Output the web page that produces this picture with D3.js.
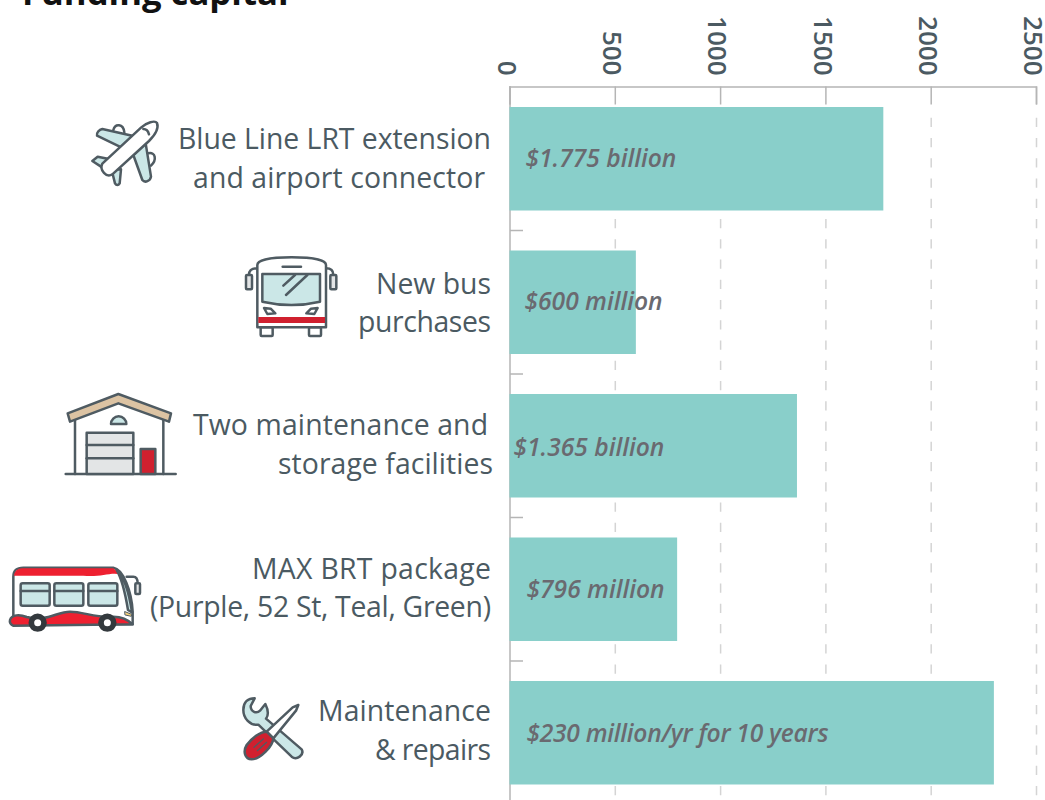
<!DOCTYPE html>
<html>
<head>
<meta charset="utf-8">
<script src="https://cdn.jsdelivr.net/npm/d3@7"></script>
<style>
  html, body { margin: 0; padding: 0; background: #fff; overflow: hidden; }
  svg { display: block; }
  text { font-family: "Open Sans", sans-serif; }
</style>
</head>
<body>
<div id="chart"></div>
<script>
const titleText = 'Funding capital';
const categories = ['Blue Line', 'New bus', 'Maintenance facilities', 'MAX BRT', 'Repairs'];
const categoryLines = [
  ['Blue Line LRT extension', 'and airport connector'],
  ['New bus', 'purchases'],
  ['Two maintenance and', 'storage facilities'],
  ['MAX BRT package', '(Purple, 52 St, Teal, Green)'],
  ['Maintenance', '& repairs']
];
const values = [1775, 600, 1365, 796, 2300];
const valueLabels = ['$1.775 billion', '$600 million', '$1.365 billion', '$796 million', '$230 million/yr for 10 years'];
const xTicks = [0, 500, 1000, 1500, 2000, 2500];

// hand placed nudges, the labels in the original are not aligned
const valueNudge = [[16, 0], [15, 0], [4, 2], [17, 1], [17, 1]];
const lineNudgeX = [[0, -6], [0, 0], [-3, 2], [0, 0], [0, 0]];
const lineNudgeY = [0, 1, -1, -1, -2];
// line widths of the original font, Open Sans runs a bit different
const lineWidths = [[313, 292], [115, 133], [295, 215], [239, 341], [173, 116]];

const width = 1045, height = 800;
const axisColor = '#b5b5b5', gridColor = '#d4d4d4', textColor = '#4b5a62';
const barColor = '#89cfca', valueColor = '#6a6a70';
const iconStroke = '#4f5b62', lightBlue = '#cbe7e7', red = '#d0202f', lightGrey = '#e3e5e6';

const svg = d3.select('#chart').append('svg').attr('width', width).attr('height', height);

const x = d3.scaleLinear().domain([0, 2500]).range([509.5, 1036]);
const y = d3.scaleBand().domain(categories).range([87, 804.5]).paddingInner(0.2787).paddingOuter(0.1394);

svg.append('text')
  .attr('x', 22).attr('y', 5)
  .attr('font-size', 34.7).attr('font-weight', 700).attr('fill', '#111')
  .text(titleText);

// grid, dashed part only, the solid stubs come from the axis ticks
svg.append('g').selectAll('line')
  .data(xTicks.slice(1))
  .join('line')
  .attr('x1', d => x(d) + 0.5).attr('x2', d => x(d) + 0.5)
  .attr('y1', 117.75).attr('y2', height)
  .attr('stroke', gridColor).attr('stroke-width', 1.5)
  .attr('stroke-dasharray', '9.25 11');

// x axis
const xAxis = d3.axisTop(x).tickValues(xTicks).tickFormat(d3.format('d')).tickSize(-18).tickSizeOuter(-18).tickPadding(0);
const xg = svg.append('g').attr('transform', 'translate(0,86.5)').call(xAxis);
xg.select('.domain').attr('stroke', axisColor).attr('stroke-width', 1.5);
xg.selectAll('.tick line').attr('stroke', axisColor).attr('stroke-width', 1.5);
xg.selectAll('.tick text')
  .attr('x', 0).attr('y', 0).attr('dy', '0.35em')
  .attr('transform', 'translate(-3,-11) rotate(90)')
  .attr('text-anchor', 'end')
  .attr('font-size', 26).attr('font-weight', 600).attr('fill', textColor);

// y axis line + ticks between the bands
svg.append('line')
  .attr('x1', 510).attr('x2', 510).attr('y1', 86).attr('y2', height)
  .attr('stroke', axisColor).attr('stroke-width', 1.5);
svg.append('g').selectAll('line')
  .data(categories.slice(0, -1))
  .join('line')
  .attr('x1', 510).attr('x2', 523)
  .attr('y1', d => y(d) + y.bandwidth() + y.step() * y.paddingInner() / 2)
  .attr('y2', d => y(d) + y.bandwidth() + y.step() * y.paddingInner() / 2)
  .attr('stroke', axisColor).attr('stroke-width', 1.5);

// bars
svg.append('g').selectAll('rect')
  .data(categories)
  .join('rect')
  .attr('x', x(0))
  .attr('y', d => y(d))
  .attr('width', (d, i) => x(values[i]) - x(0))
  .attr('height', y.bandwidth())
  .attr('fill', barColor);

// value labels
svg.append('g').selectAll('text')
  .data(categories)
  .join('text')
  .attr('x', (d, i) => x(0) + valueNudge[i][0])
  .attr('y', (d, i) => y(d) + y.bandwidth() / 2 + 8 + valueNudge[i][1])
  .attr('font-size', 24.6).attr('font-style', 'italic').attr('font-weight', 600)
  .attr('fill', valueColor)
  .attr('textLength', (d, i) => i === 4 ? 302 : null)
  .text((d, i) => valueLabels[i]);

// category labels
categories.forEach((c, i) => {
  const mid = y(c) + y.bandwidth() / 2 + lineNudgeY[i];
  categoryLines[i].forEach((line, j) => {
    svg.append('text')
      .attr('x', 491 + lineNudgeX[i][j])
      .attr('y', mid - 9.5 + j * 38.7)
      .attr('text-anchor', 'end')
      .attr('font-size', 28.4).attr('fill', textColor)
      .attr('textLength', lineWidths[i][j])
      .text(line);
  });
});

// icons, drawn in the 3x coordinates of a crop so they are easier to trace
function icon(px, py) {
  return svg.append('g')
    .attr('transform', `translate(${px},${py}) scale(${1 / 3})`)
    .attr('stroke', iconStroke).attr('stroke-width', 7.5).attr('stroke-linejoin', 'round').attr('stroke-linecap', 'round');
}
function shape(g, d, fill) {
  return g.append('path').attr('d', d).attr('fill', fill || 'none');
}

// plane
const plane = icon(85, 115);
shape(plane, 'M85,45 C90,25 115,25 118,52');
shape(plane, 'M190,115 C212,110 216,135 198,152');
shape(plane, 'M155,65 L52,42 C42,44 34,54 36,62 L115,100 Z', lightBlue);
shape(plane, 'M145,120 L182,85 L198,185 C196,198 180,205 172,195 Z', lightBlue);
shape(plane, 'M72,132 L38,125 L22,138 L48,155 Z', lightBlue);
shape(plane, 'M80,165 L108,163 L104,205 C100,212 94,212 90,205 Z', lightBlue);
shape(plane, 'M52,146 L168,38 C185,22 210,15 216,24 C222,40 208,62 192,78 L82,178 C65,190 42,165 52,146 Z', '#fff');
shape(plane, 'M175,42 C185,42 190,50 192,58');

// front of the bus
const busFront = icon(230, 240);
shape(busFront, 'M57,105 C57,90 65,85 82,85');
shape(busFront, 'M310,105 C310,90 302,85 288,85');
busFront.append('rect').attr('x', 48).attr('y', 105).attr('width', 18).attr('height', 43).attr('rx', 3).attr('fill', lightGrey);
busFront.append('rect').attr('x', 301).attr('y', 105).attr('width', 18).attr('height', 43).attr('rx', 3).attr('fill', lightGrey);
busFront.append('rect').attr('x', 92).attr('y', 262).attr('width', 36).attr('height', 26).attr('rx', 3).attr('fill', '#fff');
busFront.append('rect').attr('x', 237).attr('y', 262).attr('width', 36).attr('height', 26).attr('rx', 3).attr('fill', '#fff');
shape(busFront, 'M82,75 C82,60 120,52 185,52 C250,52 288,60 288,75 L288,262 L82,262 Z', '#fff');
busFront.append('rect').attr('x', 85).attr('y', 231).attr('width', 200).attr('height', 18).attr('fill', red).attr('stroke', 'none');
shape(busFront, 'M97,102 H270 V185 Q185,205 97,185 Z', lightBlue);
shape(busFront, 'M158,80 H213');
shape(busFront, 'M160,137 L195,105');
shape(busFront, 'M168,165 L232,105');
shape(busFront, 'M102,204 L122,206 L136,220 L112,222 Z', '#fff');
shape(busFront, 'M263,204 L243,206 L229,220 L253,222 Z', '#fff');

// garage
const garage = icon(55, 380);
shape(garage, 'M32,282 H362');
shape(garage, 'M60,120 V282');
shape(garage, 'M325,120 V282');
shape(garage, 'M38,100 L190,42 L348,100 L342,125 L190,70 L45,125 Z', '#dcc3a3');
shape(garage, 'M168,132 A23,23 0 0 1 214,132 Z', lightBlue);
garage.append('rect').attr('x', 95).attr('y', 158).attr('width', 140).attr('height', 124).attr('fill', lightGrey);
shape(garage, 'M95,195 H235');
shape(garage, 'M95,235 H235');
garage.append('rect').attr('x', 257).attr('y', 207).attr('width', 44).attr('height', 75).attr('fill', red);

// side of the bus
const busSide = icon(0, 555);
shape(busSide, 'M380,65 H400 C410,65 413,75 413,85');
busSide.append('rect').attr('x', 406).attr('y', 85).attr('width', 14).attr('height', 32).attr('rx', 3).attr('fill', lightGrey);
shape(busSide, 'M40,65 C40,45 50,38 70,38 H340 C370,42 395,110 398,170 V208 H40 Z', '#fff');
shape(busSide, 'M42,62 C45,42 60,40 70,40 H340 L362,58 C330,50 300,68 250,62 Z', '#ee2030').attr('stroke', 'none');
shape(busSide, 'M30,195 C35,178 60,178 80,186 C140,202 170,170 210,170 C250,170 290,190 340,185 C370,185 390,200 398,208 L40,212 C32,210 28,202 30,195 Z', '#ee2030');
shape(busSide, 'M350,45 C370,60 387,110 396,172 L384,165 C375,110 365,70 350,45 Z', lightBlue);
shape(busSide, 'M375,170 L395,178 L394,184 L376,180 Z', '#f3cf7a').attr('stroke-width', 3);
[62, 163, 265].forEach(wx => {
  busSide.append('rect').attr('x', wx).attr('y', 85).attr('width', 87).attr('height', 67).attr('rx', 6).attr('fill', lightBlue);
  shape(busSide, `M${wx},108 H${wx + 87}`);
});
[113, 322].forEach(wx => {
  busSide.append('circle').attr('cx', wx).attr('cy', 203).attr('r', 19).attr('fill', '#fff').attr('stroke', '#33393d').attr('stroke-width', 17);
});

// tools
const tools = icon(230, 690);
shape(tools, 'M40,60 C40,35 55,25 74,25 L62,48 C62,66 80,72 90,62 L106,42 C116,62 114,78 108,86 L215,178 C224,195 200,212 185,200 L85,104 C60,108 40,85 40,60 Z', lightBlue);
shape(tools, 'M205,45 L188,52 L110,125 L130,145 L198,62 Z', '#fff');
shape(tools, 'M110,125 L130,145 C128,170 90,208 65,208 C45,208 38,185 50,165 C65,145 90,125 110,125 Z', red);
shape(tools, 'M72,172 L100,147').attr('stroke-width', 4);
shape(tools, 'M82,182 L110,157').attr('stroke-width', 4);
</script>
</body>
</html>
